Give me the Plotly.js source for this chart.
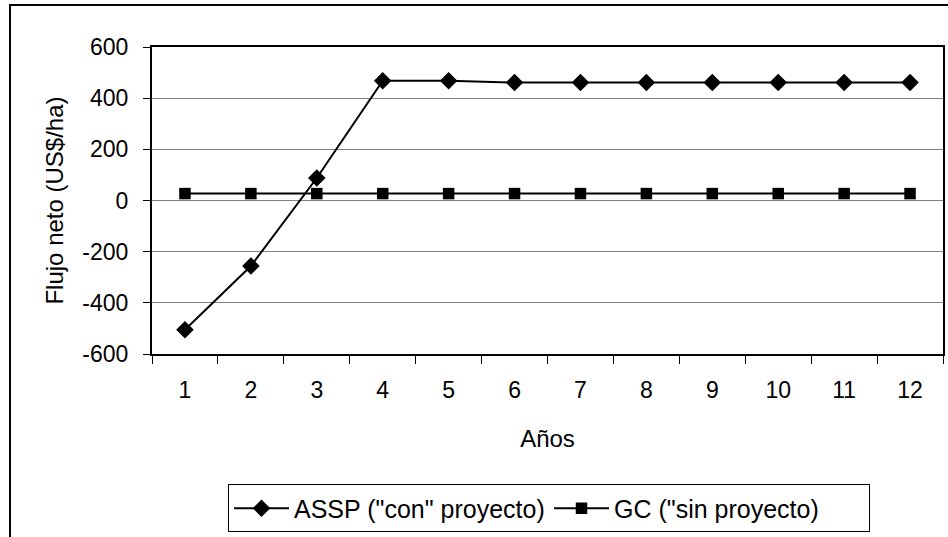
<!DOCTYPE html>
<html>
<head>
<meta charset="utf-8">
<script src="https://cdn.plot.ly/plotly-3.0.1.min.js"></script>
<style>
  html, body { margin: 0; padding: 0; background: #fff; }
  #chart { width: 948px; height: 537px; }
</style>
</head>
<body>
<div id="chart"></div>
<script>
// Data
const years = ['1','2','3','4','5','6','7','8','9','10','11','12'];
const asspValues = [-505, -256, 88, 468, 468, 461, 461, 461, 461, 461, 461, 461];
const gcValues = [27, 27, 27, 27, 27, 27, 27, 27, 27, 27, 27, 27];
const seriesNames = ['ASSP ("con" proyecto)', 'GC ("sin proyecto)'];
const yTickVals = [-600, -400, -200, 0, 200, 400, 600];
const yTickText = ['-600', '-400', '-200', '0', '200', '400', '600'];

const FONT = 'Liberation Sans, Arial, sans-serif';

const traces = [
  {
    x: years, y: asspValues, name: seriesNames[0],
    type: 'scatter', mode: 'lines+markers',
    line: { color: '#000', width: 2 },
    marker: { symbol: 'diamond', size: 13.5, color: '#000', line: { width: 0 } }
  },
  {
    x: years, y: gcValues, name: seriesNames[1],
    type: 'scatter', mode: 'lines+markers',
    line: { color: '#000', width: 2 },
    marker: { symbol: 'square', size: 11.5, color: '#000', line: { width: 0 } }
  }
];

const layout = {
  width: 948, height: 537,
  margin: { l: 152, r: 5, t: 47, b: 183 },
  paper_bgcolor: '#fff', plot_bgcolor: '#fff',
  font: { family: FONT, size: 23, color: '#000' },
  showlegend: true,
  xaxis: {
    type: 'category',
    range: [-0.5, years.length - 0.5],
    autorange: false,
    showline: true, linecolor: '#000', linewidth: 2, mirror: true,
    showgrid: false, zeroline: false,
    ticks: 'outside', tickson: 'boundaries', ticklen: 8, tickcolor: '#000', tickwidth: 1,
    ticklabelstandoff: 14,
    tickfont: { family: FONT, size: 23, color: '#000' },
    title: { text: 'Años', font: { family: FONT, size: 24, color: '#000' }, standoff: 29 },
    automargin: false, fixedrange: true
  },
  yaxis: {
    range: [-600, 600],
    tickvals: yTickVals, ticktext: yTickText,
    showline: true, linecolor: '#000', linewidth: 2, mirror: true,
    showgrid: true, gridcolor: '#808080', gridwidth: 1,
    zeroline: false,
    ticks: 'outside', ticklen: 7, tickcolor: '#000', tickwidth: 1,
    ticklabelstandoff: 10,
    tickfont: { family: FONT, size: 23, color: '#000' },
    title: { text: 'Flujo neto (US$/ha)', font: { family: FONT, size: 24, color: '#000' }, standoff: 12 },
    automargin: false, fixedrange: true
  },
  legend: {
    orientation: 'h',
    x: 0.0961, xanchor: 'left',
    y: -0.425, yanchor: 'top',
    bgcolor: '#fff', bordercolor: '#000', borderwidth: 1,
    font: { family: FONT, size: 25, color: '#000' },
    itemwidth: 55,
    entrywidth: 250, entrywidthmode: 'pixels',
    traceorder: 'normal'
  },
  shapes: [
    {
      type: 'rect', xref: 'paper', yref: 'paper',
      x0: -0.1795, x1: 1.5, y0: 1.1368, y1: -1.5,
      line: { color: '#000', width: 2 }, fillcolor: 'rgba(0,0,0,0)', layer: 'above'
    }
  ]
};

Plotly.newPlot('chart', traces, layout, { staticPlot: true, displayModeBar: false });
</script>
</body>
</html>
